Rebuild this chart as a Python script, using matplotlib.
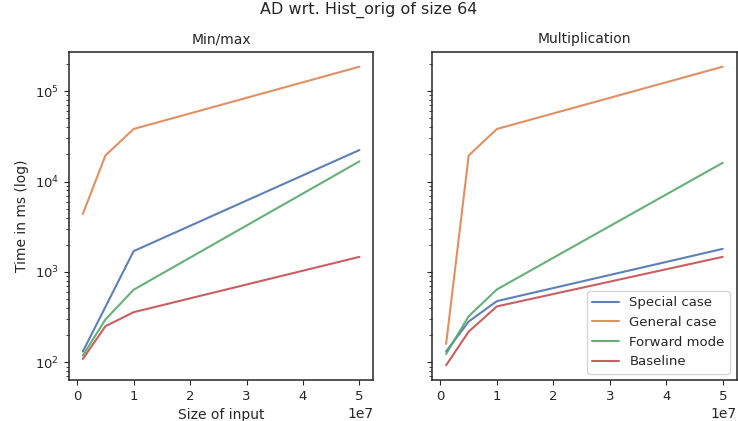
import matplotlib
matplotlib.use("Agg")
import matplotlib.pyplot as plt
import numpy as np
import seaborn as sns

sizes = [1e6, 5e6, 1e7, 5e7]
labels = ["Special case", "General case", "Forward mode", "Baseline"]

minmax_special = [132, 410, 1700, 22300]
minmax_general = [4380, 19400, 38100, 186000]
minmax_forward = [119, 298, 636, 16700]
minmax_baseline = [109, 251, 359, 1468]

mult_special = [132, 283, 476, 1800]
mult_general = [160, 19400, 38100, 186000]
mult_forward = [124, 324, 641, 16100]
mult_baseline = [93, 219, 416, 1468]

sns.set_style("ticks")
plt.rcParams["font.family"] = ["DejaVu Sans"]
colors = sns.color_palette("deep")

fig, axes = plt.subplots(1, 2, figsize=(7.38, 4.21), dpi=100, sharey=True)
fig.subplots_adjust(left=0.0935, right=0.998, top=0.877, bottom=0.097, wspace=0.194)

panels = [
    ("Min/max", [minmax_special, minmax_general, minmax_forward, minmax_baseline]),
    ("Multiplication", [mult_special, mult_general, mult_forward, mult_baseline]),
]
for ax, (title, series) in zip(axes, panels):
    for i, (lab, vals) in enumerate(zip(labels, series)):
        ax.plot(sizes, vals, color=colors[i], label=lab, linewidth=1.5, alpha=0.9)
    ax.set_yscale("log")
    ax.set_title(title, fontsize=10)
    ax.tick_params(labelsize=9.5)
    for sp in ax.spines.values():
        sp.set_linewidth(1.1)

axes[0].set_ylabel("Time in ms (log)", fontsize=10)
axes[0].set_xlabel("Size of input", fontsize=10)
axes[1].legend(loc="lower right", fontsize=9.5)
fig.suptitle("AD wrt. Hist_orig of size 64", fontsize=11.5, y=0.995)

fig.savefig("out.png", dpi=100)
